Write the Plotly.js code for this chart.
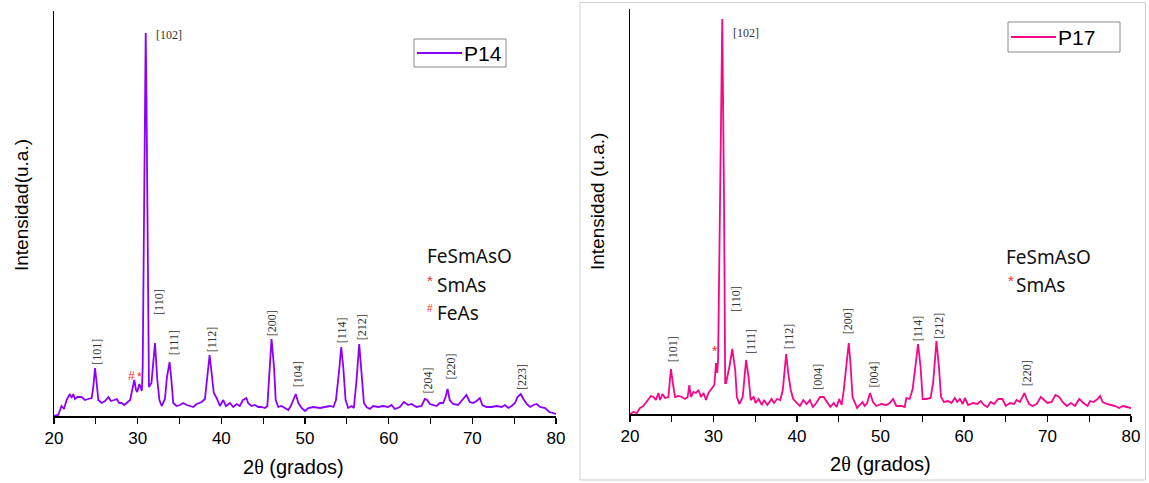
<!DOCTYPE html>
<html>
<head>
<meta charset="utf-8">
<script src="https://cdn.plot.ly/plotly-3.0.1.min.js"></script>
<style>html,body{margin:0;padding:0;background:#fff;}#chart{width:1149px;height:483px;}</style>
</head>
<body>
<div id="chart"></div>
<script>
// ---- P14 pattern (2θ in degrees, intensity in arbitrary units) ----
var p14_2theta = [20.0,20.5,20.9,21.2,21.5,21.9,22.1,22.3,22.5,22.8,23.3,23.7,24.1,24.5,24.7,24.9,25.1,25.3,25.7,26.1,26.5,26.8,27.2,27.5,27.8,28.1,28.4,28.7,29.1,29.3,29.6,29.8,29.95,30.2,30.4,30.5,30.6,30.75,30.9,30.96,31.05,31.2,31.35,31.65,32.07,32.35,32.6,32.87,33.26,33.5,33.82,34.06,34.25,34.66,35.05,35.45,35.85,36.25,36.65,37.05,37.65,38.04,38.32,38.6,38.84,39.1,39.44,39.83,40.23,40.55,41.03,41.42,41.83,42.2,42.6,43.0,43.2,43.6,44.0,44.4,44.8,45.2,45.5,45.7,46.0,46.3,46.5,46.8,47.2,47.6,48.0,48.3,48.6,48.9,49.2,49.6,50.0,50.4,51.0,51.8,52.4,53.0,53.4,53.7,54.05,54.33,54.57,54.85,55.17,55.57,55.84,56.16,56.48,56.76,57.04,57.36,57.75,58.15,58.75,59.34,59.94,60.34,60.74,61.34,61.82,62.33,62.73,63.33,63.93,64.32,64.6,64.92,65.32,65.72,66.12,66.51,66.8,67.04,67.3,67.7,68.3,68.9,69.3,69.7,70.1,70.5,70.9,71.2,71.7,72.3,72.9,73.5,73.9,74.3,74.7,75.1,75.4,75.8,76.1,76.5,76.9,77.3,77.7,78.1,78.7,79.2,79.66,80.0];
var p14_int = [0,1,10,7,16,22,18,22,17,19,19,16,17,18,29,48,33,16,13,15,19,15,16,17,13,13,11,13,16,24,36,26,24,32,28,25,49,180,370,383,320,130,29,33,73,36,16,10,17,39,54,33,13,10,11,13,11,10,9,12,14,17,36,61,43,23,18,10,16,10,13,9,12,10,16,18,13,10,11,9,9,8,10,33,77,49,16,9,10,8,6,10,16,22,13,8,5,8,9,8,9,10,9,16,43,69,49,16,8,10,8,36,72,46,13,9,7,10,9,10,9,11,7,9,14,11,12,9,10,17,16,12,11,10,13,13,19,27,16,12,11,17,21,14,13,15,18,11,9,9,10,9,11,8,10,13,19,22,17,12,9,11,12,9,8,4,3,2];

// ---- P17 pattern ----
var p17_2theta = [20.0,20.4,20.8,21.2,21.6,22.0,22.5,22.8,23.1,23.4,23.6,23.9,24.2,24.6,24.9,25.2,25.4,25.8,26.2,26.6,26.9,27.1,27.3,27.6,27.9,28.2,28.5,28.8,29.1,29.4,29.8,30.1,30.3,30.45,30.55,30.86,31.05,31.26,31.4,31.5,31.9,32.25,32.6,32.8,33.1,33.5,33.7,33.9,34.2,34.45,34.8,35.05,35.4,35.8,36.05,36.45,36.95,37.25,37.6,38.0,38.3,38.5,38.7,38.95,39.25,39.55,39.95,40.35,40.75,41.15,41.55,41.9,42.3,42.75,43.2,43.6,44.0,44.4,44.75,45.05,45.35,45.6,45.95,46.2,46.4,46.65,46.95,47.2,47.5,47.85,48.1,48.4,48.75,49.1,49.5,50.1,50.7,51.1,51.5,51.9,52.5,52.9,53.1,53.5,53.85,54.15,54.5,54.8,55.05,55.5,56.0,56.3,56.7,57.0,57.25,57.6,58.1,58.5,58.9,59.2,59.5,59.85,60.1,60.5,61.1,61.6,62.0,62.4,62.8,63.2,63.6,64.1,64.6,65.0,65.5,66.0,66.3,66.7,67.0,67.25,67.5,67.8,68.2,68.7,69.2,69.6,70.0,70.5,70.95,71.4,71.8,72.3,72.8,73.3,73.8,74.3,74.8,75.1,75.5,76.0,76.3,76.6,77.1,77.6,78.1,78.6,79.0,79.5,80.0];
var p17_int = [0,2,1,6,8,12,18,17,14,21,14,20,16,17,45,27,17,18,17,15,17,29,17,22,21,24,17,21,14,21,26,29,51,41,54,247,395,214,31,31,47,65,44,17,10,17,37,54,37,14,17,11,15,9,14,9,15,11,15,14,24,47,60,41,24,15,12,8,14,10,14,7,11,17,17,12,7,11,7,15,9,24,51,71,51,17,11,6,9,12,8,11,21,12,8,10,9,11,15,8,8,7,16,15,25,47,70,47,15,15,16,31,73,47,17,12,13,11,16,12,15,10,16,9,11,10,13,9,7,12,10,15,15,8,11,10,14,12,17,21,15,10,8,10,17,14,11,12,19,17,12,8,11,8,15,11,8,13,12,15,18,12,10,9,8,6,8,7,6];

// ---- Peak labels (Miller indices) ----
var p14_labels = ['[101]','[110]','[111]','[112]','[200]','[104]','[114]','[212]','[204]','[220]','[223]'];
var p14_labelX = [25.10,32.54,34.37,38.91,46.08,49.19,54.44,56.83,64.65,67.40,75.95];
var p14_labelY = [64,114,73,77,93,42,86,89,35,49,39];
var p14_mainLabel = '[102]', p14_mainX = 31.98, p14_mainY = 381;
var p14_phaseMarks = ['#','*'], p14_phaseX = [29.28,30.16], p14_phaseY = [40,39];

var p17_labels = ['[101]','[110]','[111]','[112]','[004]','[200]','[004]','[114]','[212]','[220]'];
var p17_labelX = [25.19,32.66,34.49,39.08,42.48,46.14,49.28,54.53,56.97,67.58];
var p17_labelY = [65,115,73,78,37,93,40,86,88,41];
var p17_mainLabel = '[102]', p17_mainX = 32.06, p17_mainY = 381;
var p17_phaseMarks = ['*'], p17_phaseX = [30.18], p17_phaseY = [63];

var seriesNames = ['P14', 'P17'];
var xTitle = '2<span style="font-family:Liberation Serif">θ</span> (grados)';
var yTitleLeft = 'Intensidad(u.a.)';
var yTitleRight = 'Intensidad (u.a.)';

// ---- styles ----
var W = 1149, H = 483;
var c14 = '#8a00ff', c17 = '#f5078a', red = '#ff2a2a';
var sans = 'Liberation Sans, Arial, sans-serif';
var noto = 'Noto Sans, Open Sans, sans-serif';
var serif = 'Liberation Serif, Times New Roman, serif';
function px(x){return x/W;} function py(y){return (H-y)/H;}

var traces = [
  {x:p14_2theta, y:p14_int, xaxis:'x', yaxis:'y', mode:'lines', name:seriesNames[0], line:{color:c14, width:1.8}, hoverinfo:'skip'},
  {x:p17_2theta, y:p17_int, xaxis:'x2', yaxis:'y2', mode:'lines', name:seriesNames[1], line:{color:c17, width:1.8}, hoverinfo:'skip'}
];

var ann = [];
function addLabels(labels, xs, ys, xr, yr){
  for (var i=0;i<labels.length;i++){
    ann.push({text:labels[i], x:xs[i], y:ys[i], xref:xr, yref:yr, showarrow:false, textangle:-90,
      xanchor:'center', yanchor:'middle', font:{family:serif, size:12, color:'#333'}});
  }
}
addLabels(p14_labels, p14_labelX, p14_labelY, 'x', 'y');
addLabels(p17_labels, p17_labelX, p17_labelY, 'x2', 'y2');
ann.push({text:p14_mainLabel, x:p14_mainX, y:p14_mainY, xref:'x', yref:'y', showarrow:false, xanchor:'left', yanchor:'middle', font:{family:serif,size:12,color:'#333'}});
ann.push({text:p17_mainLabel, x:p17_mainX, y:p17_mainY, xref:'x2', yref:'y2', showarrow:false, xanchor:'left', yanchor:'middle', font:{family:serif,size:12,color:'#333'}});
for (var i=0;i<p14_phaseMarks.length;i++) ann.push({text:p14_phaseMarks[i], x:p14_phaseX[i], y:p14_phaseY[i], xref:'x', yref:'y', showarrow:false, font:{family:sans,size:12,color:red}});
for (var i=0;i<p17_phaseMarks.length;i++) ann.push({text:p17_phaseMarks[i], x:p17_phaseX[i], y:p17_phaseY[i], xref:'x2', yref:'y2', showarrow:false, font:{family:sans,size:14,color:red}});

// phase key text
function key(t, x, y, color, size, fam){
  ann.push({text:t, x:px(x), y:py(y), xref:'paper', yref:'paper', showarrow:false, xanchor:'left', yanchor:'middle', font:{family:fam||noto, size:size||19, color:color||'#111'}});
}
key('FeSmAsO', 425, 256);
key('*', 425, 280, red, 15, sans);
key('SmAs', 435, 285);
key('#', 425, 308, red, 10, sans);
key('FeAs', 435, 313);
key('FeSmAsO', 1004, 257);
key('*', 1006, 280, red, 15, sans);
key('SmAs', 1014, 285);

// legend boxes (per panel)
var shapes = [];
function legendBox(x0, x1, y0, y1, color, name){
  shapes.push({type:'rect', xref:'paper', yref:'paper', x0:px(x0), x1:px(x1), y0:py(y1), y1:py(y0), line:{color:'#8a8a8a', width:1}, fillcolor:'#fff'});
  var ym = (y0+y1)/2;
  shapes.push({type:'line', xref:'paper', yref:'paper', x0:px(x0+3), x1:px(x0+48), y0:py(ym), y1:py(ym), line:{color:color, width:2}});
  ann.push({text:name, x:px(x0+48), y:py(ym+0.5), xref:'paper', yref:'paper', showarrow:false, xanchor:'left', yanchor:'middle', font:{family:sans, size:21, color:'#000'}});
}
legendBox(414, 506, 39, 67, c14, seriesNames[0]);
legendBox(1008, 1120, 22, 52, c17, seriesNames[1]);

// axis titles
ann.push({text:xTitle, x:px(293), y:py(467), xref:'paper', yref:'paper', showarrow:false, xanchor:'center', yanchor:'middle', font:{family:sans,size:20,color:'#000'}});
ann.push({text:xTitle, x:px(880), y:py(464), xref:'paper', yref:'paper', showarrow:false, xanchor:'center', yanchor:'middle', font:{family:sans,size:20,color:'#000'}});
ann.push({text:yTitleLeft, x:px(22), y:py(205), xref:'paper', yref:'paper', showarrow:false, textangle:-90, xanchor:'center', yanchor:'middle', font:{family:sans,size:19,color:'#000'}});
ann.push({text:yTitleRight, x:px(597), y:py(202), xref:'paper', yref:'paper', showarrow:false, textangle:-90, xanchor:'center', yanchor:'middle', font:{family:sans,size:19,color:'#000'}});

function xax(d0,d1,anchor){
  return {domain:[d0,d1], range:[20,80], anchor:anchor, showline:true, linecolor:'#000', linewidth:1.5,
    ticks:'outside', ticklen:6, tickwidth:1.3, tickcolor:'#000', tick0:20, dtick:10,
    minor:{dtick:5, ticks:'outside', ticklen:6, tickwidth:1.3, tickcolor:'#000', showgrid:false},
    showgrid:false, zeroline:false, tickfont:{family:sans, size:17, color:'#000'}, fixedrange:true};
}
function yax(d0,d1,anchor){
  return {domain:[d0,d1], range:[0,405], anchor:anchor, showline:true, linecolor:'#000', linewidth:1.5,
    showticklabels:false, ticks:'', showgrid:false, zeroline:false, fixedrange:true};
}

shapes.push({type:'rect', xref:'paper', yref:'paper', x0:px(580), x1:px(1145.5), y0:py(480), y1:py(2.5), line:{color:'#cfcfcf', width:1}});

var layout = {
  width:W, height:H, margin:{l:0,r:0,t:0,b:0}, paper_bgcolor:'#fff', plot_bgcolor:'rgba(0,0,0,0)',
  showlegend:false,
  xaxis:xax(px(54),px(556),'y'), yaxis:yax(py(416),py(11),'x'),
  xaxis2:xax(px(630),px(1131),'y2'), yaxis2:yax(py(414),py(9),'x2'),
  annotations:ann,
  shapes:shapes
};

Plotly.newPlot('chart', traces, layout, {staticPlot:true, displayModeBar:false});
</script>
</body>
</html>
